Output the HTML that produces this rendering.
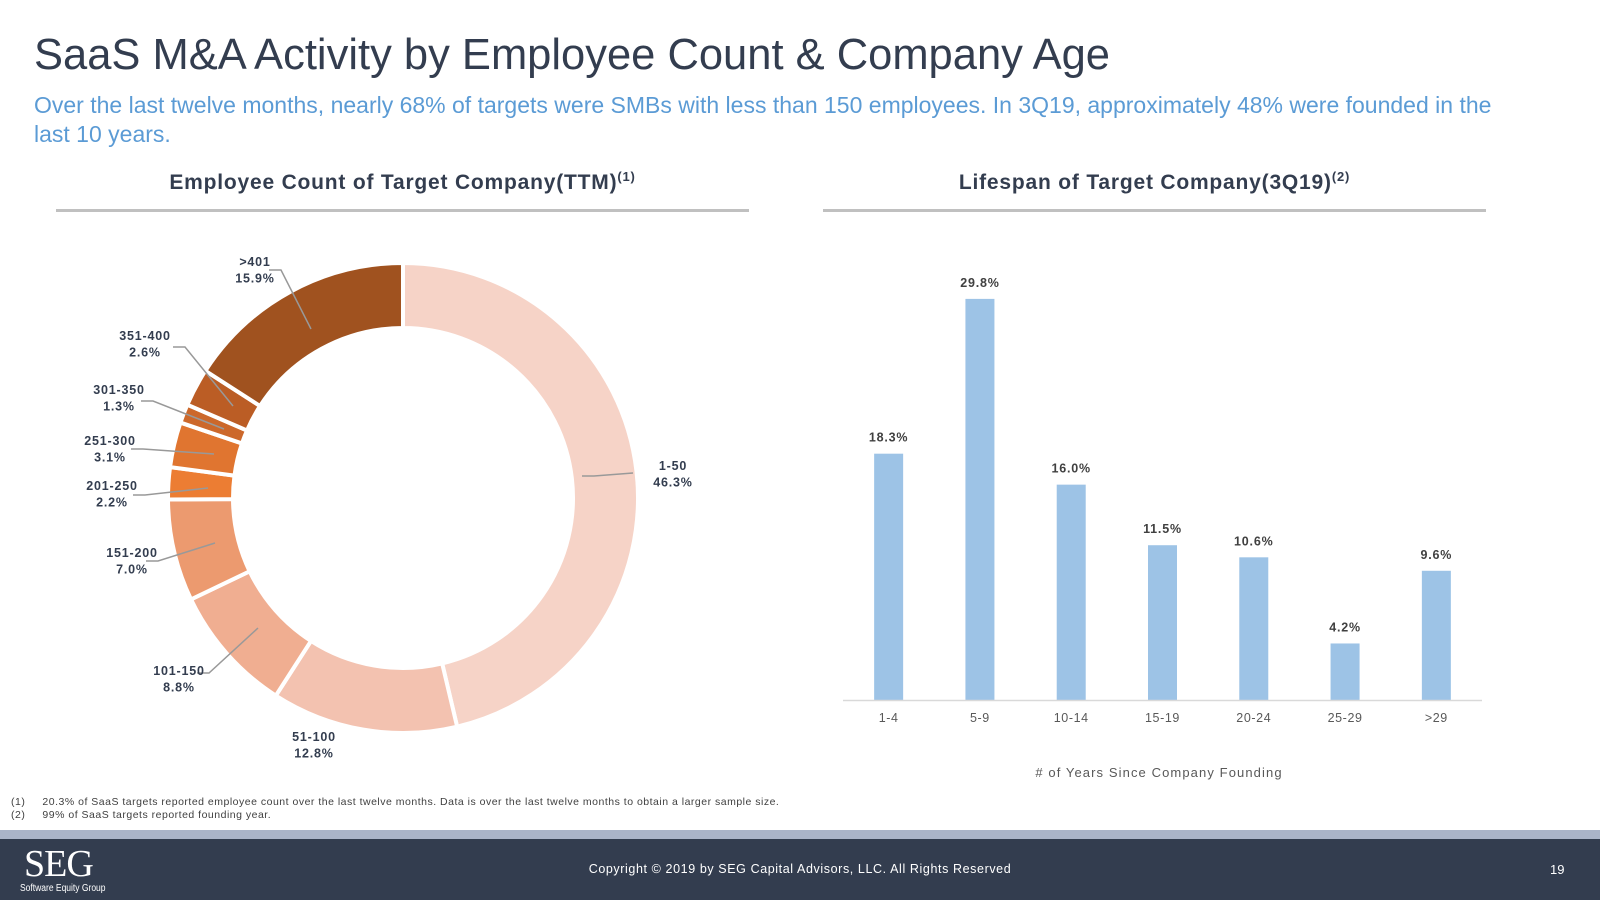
<!DOCTYPE html>
<html><head><meta charset="utf-8">
<style>
body{margin:0;width:1600px;height:900px;background:#fff;position:relative;overflow:hidden;font-family:"Liberation Sans",Arial,sans-serif;}
.abs{position:absolute;white-space:nowrap;}
</style></head>
<body>
<div class="abs" style="left:34px;top:31px;font-size:43.5px;color:#333d4f;">SaaS M&amp;A Activity by Employee Count &amp; Company Age</div>
<div class="abs" style="left:34px;top:91px;font-size:23px;line-height:28.6px;color:#5b9bd5;white-space:normal;width:1485px;">Over the last twelve months, nearly 68% of targets were SMBs with less than 150 employees. In 3Q19, approximately 48% were founded in the last 10 years.</div>
<div class="abs" style="left:56px;width:693px;text-align:center;top:169px;font-size:21px;letter-spacing:0.8px;font-weight:bold;color:#333d4f;">Employee Count of Target Company(TTM)<sup style="font-size:13px">(1)</sup></div>
<div class="abs" style="left:823px;width:663px;text-align:center;top:169px;font-size:21px;letter-spacing:0.8px;font-weight:bold;color:#333d4f;">Lifespan of Target Company(3Q19)<sup style="font-size:13px">(2)</sup></div>
<div class="abs" style="left:56px;top:209px;width:693px;height:3px;background:#c0c0c0;"></div>
<div class="abs" style="left:823px;top:209px;width:663px;height:3px;background:#c0c0c0;"></div>

<svg class="abs" style="left:0;top:0" width="1600" height="900">
<g id="donut"></g>
<g id="bars"></g>
</svg>

<div class="abs" style="left:11px;top:796px;font-size:10.5px;letter-spacing:0.5px;color:#404040;">(1)&nbsp;&nbsp;&nbsp;&nbsp;&nbsp;20.3% of SaaS targets reported employee count over the last twelve months. Data is over the last twelve months to obtain a larger sample size.</div>
<div class="abs" style="left:11px;top:809px;font-size:10.5px;letter-spacing:0.5px;color:#404040;">(2)&nbsp;&nbsp;&nbsp;&nbsp;&nbsp;99% of SaaS targets reported founding year.</div>
<div class="abs" style="left:0;top:830px;width:1600px;height:9px;background:#aab4c8;"></div>
<div class="abs" style="left:0;top:839px;width:1600px;height:61px;background:#333d4f;"></div>
<div class="abs" style="left:24px;top:845px;font-family:'Liberation Serif',serif;font-size:38px;color:#fff;line-height:38px;letter-spacing:-1px;">SEG</div>
<div class="abs" style="left:20px;top:883px;font-size:10px;color:#fff;transform:scaleX(0.85);transform-origin:left;">Software Equity Group</div>
<div class="abs" style="left:0;width:1600px;text-align:center;top:862px;font-size:12.5px;letter-spacing:0.6px;color:#fff;">Copyright © 2019 by SEG Capital Advisors, LLC. All Rights Reserved</div>
<div class="abs" style="left:1550px;top:862px;font-size:13px;color:#fff;">19</div>

<script>
const slices = ["1-50","51-100","101-150","151-200","201-250","251-300","301-350","351-400",">401"];
const sliceValues = [46.3,12.8,8.8,7.0,2.2,3.1,1.3,2.6,15.9];
const sliceColors = ["#f6d3c7","#f3c2b0","#f0ae91","#ec9a6f","#ec7d33","#e07530","#cc682b","#bb5d25","#a0521f"];
// label layout: [labelX, labelY, leaderFromX, leaderFromY, leaderToX, leaderToY]
const labelLayout = [[673,470,594,476,633,473],[314,741,0,0,0,0],[179,675,209,673,258,628],[132,557,158,561,215,543],[112,490,145,495,208,488],[110,445,143,449,214,454],[119,394,153,401,224,429],[145,340,185,347,233,406],[255,266,281,270,311,329]];

const categories = ["1-4","5-9","10-14","15-19","20-24","25-29",">29"];
const barValues = [18.3,29.8,16.0,11.5,10.6,4.2,9.6];

const NS="http://www.w3.org/2000/svg";
function mk(tag,attrs,parent){const e=document.createElementNS(NS,tag);for(const k in attrs)e.setAttribute(k,attrs[k]);parent.appendChild(e);return e;}

// donut
const dg=document.getElementById('donut');
const cx=403,cy=498,R=235,r=170;
const total=sliceValues.reduce((a,b)=>a+b,0);
let acc=0;
function pt(a,rad){return [cx+rad*Math.sin(a),cy-rad*Math.cos(a)];}
sliceValues.forEach((v,i)=>{
  const a0=acc/total*2*Math.PI; acc+=v; const a1=acc/total*2*Math.PI;
  const lg=(a1-a0)>Math.PI?1:0;
  const p0=pt(a0,R),p1=pt(a1,R),q1=pt(a1,r),q0=pt(a0,r);
  const p=mk('path',{d:`M${p0}A${R},${R} 0 ${lg} 1 ${p1}L${q1}A${r},${r} 0 ${lg} 0 ${q0}Z`,fill:sliceColors[i],stroke:'#fff','stroke-width':4},dg);
  
  
});
slices.forEach((s,i)=>{
  const L=labelLayout[i];
  if(L[2]){
    const ln=mk('polyline',{points:`${L[2]-12},${L[3]} ${L[2]},${L[3]} ${L[4]},${L[5]}`,fill:'none',stroke:'#999','stroke-width':1.5},dg);
    
    
  }
  const t=mk('text',{x:L[0],y:L[1],'text-anchor':'middle','font-size':12.5,'letter-spacing':0.8,'font-weight':'bold',fill:'#333d4f','font-family':'Liberation Sans, sans-serif'},dg);
  
  
  const t1=mk('tspan',{x:L[0],dy:0},t);t1.textContent=s;
  const t2=mk('tspan',{x:L[0],dy:16.5},t);t2.textContent=sliceValues[i].toFixed(1)+'%';
});

// bars
const bg=document.getElementById('bars');
const x0=843,x1=1482,base=700,pxPer=13.46,bw=29;
const step=(x1-x0)/categories.length;
const xc=i=>x0+step*(i+0.5);
const yv=v=>base-v*pxPer;
categories.forEach((c,i)=>{
  const b=mk('rect',{x:xc(i)-bw/2,y:yv(barValues[i]),width:bw,height:base-yv(barValues[i]),fill:'#9dc3e6'},bg);
  
  
  const vl=mk('text',{x:xc(i),y:yv(barValues[i])-12,'text-anchor':'middle','font-size':12.5,'letter-spacing':0.8,'font-weight':'bold',fill:'#404040','font-family':'Liberation Sans, sans-serif'},bg);
  vl.textContent=barValues[i].toFixed(1)+'%';
  
  
  const tl=mk('text',{x:xc(i),y:722,'text-anchor':'middle','font-size':12.5,'letter-spacing':0.6,fill:'#595959','font-family':'Liberation Sans, sans-serif'},bg);
  tl.textContent=c;
  
  
});
const ax=mk('line',{x1:x0,x2:x1,y1:base+0.5,y2:base+0.5,stroke:'#d9d9d9','stroke-width':1.5},bg);


const at=mk('text',{x:1159,y:777,'text-anchor':'middle','font-size':13,'letter-spacing':1.1,fill:'#595959','font-family':'Liberation Sans, sans-serif'},bg);
at.textContent='# of Years Since Company Founding';


</script>
</body></html>
